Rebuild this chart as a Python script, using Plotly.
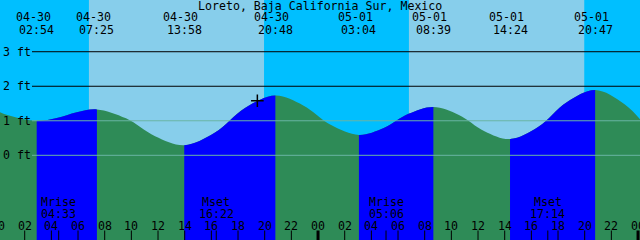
import plotly.graph_objects as go

# ---------------- data ----------------
location = "Loreto, Baja California Sur, Mexico"

# tide height readings (hours from 04-30 00:00, feet)
tide_hour = [-3.5, -1.367, 0.767, 2.90, 4.406, 5.911, 7.417, 9.60, 11.78, 13.967,
             16.244, 18.522, 20.80, 22.889, 24.978, 27.067, 28.928, 30.789, 32.65,
             34.567, 36.483, 38.40, 40.528, 42.655, 44.783, 46.989, 49.194, 51.4]
tide_ft = [1.65, 1.49, 1.16, 1.00, 1.08, 1.25, 1.33, 1.07, 0.55, 0.29,
           0.65, 1.37, 1.73, 1.445, 0.875, 0.59, 0.79, 1.20, 1.40,
           1.17, 0.70, 0.47, 0.825, 1.535, 1.89, 1.48, 0.66, 0.25]

# low / high tide events (alternating, starting with a low)
event_day = ["04-30", "04-30", "04-30", "04-30", "05-01", "05-01", "05-01", "05-01"]
event_time = ["02:54", "07:25", "13:58", "20:48", "03:04", "08:39", "14:24", "20:47"]

moon_label = ["Mrise", "Mset", "Mrise", "Mset"]
moon_day = ["04-30", "04-30", "05-01", "05-01"]
moon_time = ["04:33", "16:22", "05:06", "17:14"]

sunrise_day = ["04-30", "05-01"]
sunrise_time = ["06:49", "06:49"]
sunset_day = ["04-30", "05-01"]
sunset_time = ["19:57", "19:58"]

depth_ft = [3, 2, 1, 0]
depth_label = ["3 ft", "2 ft", "1 ft", "0 ft"]

now_day = "04-30"
now_time = "19:27"
now_ft = 1.58

hour_ticks = list(range(0, 50, 2))

# ---------------- style ----------------
NIGHT = "#00BFFF"
DAY = "#87CEEB"
FLOOD = "#0000FF"
EBB = "#2E8B57"
DEPTH_DARK = "#000000"
DEPTH_LIGHT = "#6AB4A4"
FONT = dict(family="DejaVu Sans Mono", size=11.6, color="#000000")

DAY_OFFSET = {"04-30": 0, "05-01": 24}
X0, X1 = 0.1478, 48.148
Y0, Y1 = -2.453, 4.498
H = 240.0


def to_hour(day, hm):
    hh, mm = hm.split(":")
    return DAY_OFFSET[day] + int(hh) + int(mm) / 60.0


def xpaper(h):
    return (h - X0) / (X1 - X0)


def ypaper(pix):
    return 1 - pix / H


event_hour = [to_hour(d, t) for d, t in zip(event_day, event_time)]
moon_hour = [to_hour(d, t) for d, t in zip(moon_day, moon_time)]
now_hour = to_hour(now_day, now_time)

fig = go.Figure()

# base: whole curve, ebb colour
fig.add_trace(go.Scatter(x=[-10, 60], y=[Y0 - 1, Y0 - 1], mode="lines",
                         line=dict(width=0), hoverinfo="skip", xaxis="x", yaxis="y"))
fig.add_trace(go.Scatter(x=tide_hour, y=tide_ft, mode="lines",
                         line=dict(width=0, shape="spline"), fill="tonexty",
                         fillcolor=EBB, hoverinfo="skip", xaxis="x", yaxis="y"))

layout_axes = {}
k = 2
for i in range(0, len(event_hour) - 1, 2):
    t0, t1 = event_hour[i], event_hour[i + 1]
    ax = f"x{k}"
    layout_axes[f"xaxis{k}"] = dict(domain=[max(0, xpaper(t0)), min(1, xpaper(t1))],
                                    range=[t0, t1], visible=False, anchor="y")
    fig.add_trace(go.Scatter(x=[-10, 60], y=[Y0 - 1, Y0 - 1], mode="lines",
                             line=dict(width=0), hoverinfo="skip", xaxis=ax, yaxis="y"))
    fig.add_trace(go.Scatter(x=tide_hour, y=tide_ft, mode="lines",
                             line=dict(width=0, shape="spline"), fill="tonexty",
                             fillcolor=FLOOD, hoverinfo="skip", xaxis=ax, yaxis="y"))
    k += 1

# top subplot for the "now" marker
layout_axes[f"xaxis{k}"] = dict(domain=[0, 1], range=[X0, X1], visible=False, anchor="y")
fig.add_trace(go.Scatter(x=[now_hour], y=[now_ft], mode="markers",
                         marker=dict(symbol="cross-thin", size=9,
                                     line=dict(color="#000000", width=1.5)),
                         hoverinfo="skip", xaxis=f"x{k}", yaxis="y"))

shapes = []
# daylight
for sd, st, ed, et in zip(sunrise_day, sunrise_time, sunset_day, sunset_time):
    shapes.append(dict(type="rect", xref="x", yref="paper",
                       x0=to_hour(sd, st), x1=to_hour(ed, et), y0=0, y1=1,
                       fillcolor=DAY, line=dict(width=0), layer="below"))
# depth lines
for d in depth_ft:
    shapes.append(dict(type="line", xref="paper", yref="y", x0=32 / 640, x1=1,
                       y0=d, y1=d, layer="above",
                       line=dict(color=DEPTH_DARK if d >= 2 else DEPTH_LIGHT, width=1)))
# hour ticks
for h in hour_ticks:
    shapes.append(dict(type="line", xref="x", yref="paper", x0=h, x1=h,
                       y0=0, y1=9.5 / H, layer="above",
                       line=dict(color="#000000", width=3 if h % 24 == 0 else 1)))
# moon ticks
for h in moon_hour:
    shapes.append(dict(type="line", xref="x", yref="paper", x0=h, x1=h,
                       y0=0, y1=9.5 / H, layer="above",
                       line=dict(color="#000000", width=1)))

ann = []
ann.append(dict(text=location, xref="paper", yref="paper", x=0.5, y=ypaper(5.5),
                showarrow=False, font=FONT, xanchor="center", yanchor="middle"))
for h, d, t in zip(event_hour, event_day, event_time):
    ann.append(dict(text=d, xref="paper", yref="paper", x=xpaper(h), xshift=-3.5,
                    y=ypaper(17.2), showarrow=False, font=FONT,
                    xanchor="center", yanchor="middle"))
    ann.append(dict(text=t, xref="paper", yref="paper", x=xpaper(h),
                    y=ypaper(29.5), showarrow=False, font=FONT,
                    xanchor="center", yanchor="middle"))
for h, lab, t in zip(moon_hour, moon_label, moon_time):
    ann.append(dict(text=lab, xref="paper", yref="paper", x=xpaper(h),
                    y=ypaper(201.8), showarrow=False, font=FONT,
                    xanchor="center", yanchor="middle"))
    ann.append(dict(text=t, xref="paper", yref="paper", x=xpaper(h),
                    y=ypaper(213.5), showarrow=False, font=FONT,
                    xanchor="center", yanchor="middle"))
for h in hour_ticks:
    ann.append(dict(text=f"{h % 24:02d}", xref="paper", yref="paper", x=xpaper(h),
                    y=ypaper(225.8), showarrow=False, font=FONT,
                    xanchor="center", yanchor="middle"))
for d, lab in zip(depth_ft, depth_label):
    ann.append(dict(text=lab, xref="paper", yref="y", x=0, xshift=1, y=d,
                    showarrow=False, font=FONT, xanchor="left", yanchor="middle"))

fig.update_layout(
    width=640, height=240, margin=dict(l=0, r=0, t=0, b=0, pad=0),
    paper_bgcolor=NIGHT, plot_bgcolor="rgba(0,0,0,0)", showlegend=False,
    xaxis=dict(domain=[0, 1], range=[X0, X1], visible=False),
    yaxis=dict(domain=[0, 1], range=[Y0, Y1], visible=False),
    shapes=shapes, annotations=ann, **layout_axes,
)

fig.write_html("out.html", config={"displayModeBar": False})
